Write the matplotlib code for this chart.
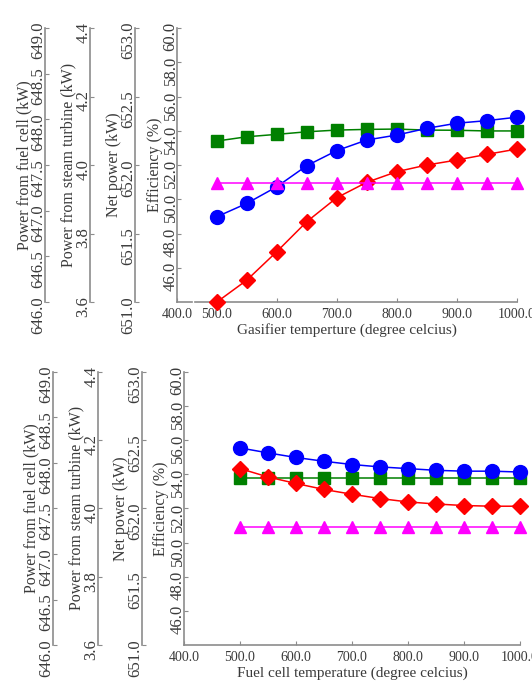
import matplotlib
matplotlib.use("Agg")
import matplotlib.pyplot as plt

plt.rcParams['font.family'] = ['Liberation Serif', 'DejaVu Serif']

temps = [500, 550, 600, 650, 700, 750, 800, 850, 900, 950, 1000]

# gasifier temperature sweep, read on the efficiency scale
gas_green = [53.40, 53.65, 53.79, 53.94, 54.04, 54.08, 54.10, 54.04, 54.03, 53.99, 53.99]
gas_blue = [48.98, 49.76, 50.73, 51.96, 52.84, 53.46, 53.75, 54.14, 54.44, 54.59, 54.79]
gas_red = [44.0, 45.28, 46.94, 48.69, 50.09, 50.99, 51.61, 52.0, 52.29, 52.62, 52.93]
gas_magenta = [50.95, 50.95, 50.95, 50.95, 50.95, 50.95, 50.95, 50.95, 50.95, 50.95, 50.95]

# fuel cell temperature sweep
fc_blue = [55.54, 55.25, 54.98, 54.76, 54.57, 54.43, 54.33, 54.23, 54.18, 54.18, 54.13]
fc_red = [54.33, 53.84, 53.46, 53.11, 52.83, 52.58, 52.38, 52.26, 52.17, 52.13, 52.13]
fc_green = [53.8, 53.8, 53.8, 53.8, 53.8, 53.8, 53.8, 53.8, 53.8, 53.8, 53.8]
fc_magenta = [50.9, 50.9, 50.9, 50.9, 50.9, 50.9, 50.9, 50.9, 50.9, 50.9, 50.9]

fc_power_ticks = [646.0, 646.5, 647.0, 647.5, 648.0, 648.5, 649.0]
st_power_ticks = [3.6, 3.8, 4.0, 4.2, 4.4]
net_power_ticks = [651.0, 651.5, 652.0, 652.5, 653.0]
eff_ticks = [46.0, 48.0, 50.0, 52.0, 54.0, 56.0, 58.0, 60.0]
eff_lim = (44.0, 60.0)
x_ticks = [500, 600, 700, 800, 900, 1000]

TXT = '#3a3a3a'
SPN = '#8c8c8c'
YFS = 12      # rotated tick labels look taller in the original
YLFS = 11.5
XFS = 10
XLFS = 11

side_axes = [
    ("Power from fuel cell (kW)", fc_power_ticks, '%.1f'),
    ("Power from steam turbine (kW)", st_power_ticks, '%.1f'),
    ("Net power (kW)", net_power_ticks, '%.1f'),
]


def style_y(a, ticks, fmt, label, pad):
    for s in ['top', 'right', 'bottom']:
        a.spines[s].set_visible(False)
    a.spines['left'].set_color(SPN)
    a.spines['left'].set_linewidth(1.2)
    a.set_yticks(ticks)
    a.set_yticklabels([fmt % t for t in ticks])
    a.tick_params(axis='y', labelrotation=90, direction='in', length=3,
                  color=SPN, labelcolor=TXT, labelsize=YFS, pad=-1)
    a.set_ylabel(label, fontsize=YLFS, color=TXT, labelpad=pad)


def panel(fig, bottom, top, xs, right, xlim, xlabels, xlabel, series, gap=None):
    h = top - bottom
    for x, (label, ticks, fmt) in zip(xs[:3], side_axes):
        a = fig.add_axes([x, bottom, 0.0001, h])
        a.patch.set_visible(False)
        a.set_xticks([])
        a.set_ylim(ticks[0], ticks[-1])
        style_y(a, ticks, fmt, label, -1)

    ax = fig.add_axes([xs[3], bottom, right - xs[3], h])
    ax.patch.set_visible(False)
    ax.set_ylim(*eff_lim)
    style_y(ax, eff_ticks, '%.1f', "Efficiency (%)", 0)
    ax.spines['bottom'].set_visible(True)
    ax.spines['bottom'].set_color(SPN)
    ax.spines['bottom'].set_linewidth(1.2)
    ax.set_xlim(*xlim)
    ax.set_xticks([xlim[0]] + x_ticks)
    ax.set_xticklabels(xlabels)
    ax.tick_params(axis='x', direction='in', length=3, color=SPN,
                   labelcolor=TXT, labelsize=XFS, pad=4)
    ax.set_xlabel(xlabel, fontsize=XLFS, color=TXT, labelpad=2)

    if gap is not None:
        ax.spines['bottom'].set_bounds(gap[1], xlim[1])
        ax.plot([xlim[0], gap[0]], [eff_lim[0], eff_lim[0]], color=SPN,
                lw=1.2, clip_on=False)

    styles = [('#008000', 's', 9), ('#0000ff', 'o', 10), ('#ff0000', 'D', 8),
              ('#ff00ff', '^', 9)]
    for ys, (c, m, ms) in zip(series, styles):
        ax.plot(temps, ys, color=c, marker=m, markersize=ms, lw=1.1,
                clip_on=False, zorder=3)
    return ax


fig = plt.figure(figsize=(5.32, 6.82), dpi=100)

labels_top = ["400.0"] + ['%.1f' % t for t in x_ticks]
panel(fig, 0.557, 0.959, [0.085, 0.169, 0.254, 0.333], 0.971, (434, 1000),
      labels_top, "Gasifier temperture (degree celcius)",
      [gas_green, gas_blue, gas_red, gas_magenta], gap=(458, 463))

labels_bot = ['%.1f' % t for t in [400] + x_ticks]
panel(fig, 0.054, 0.455, [0.0996, 0.184, 0.267, 0.346], 0.977, (400, 1000),
      labels_bot, "Fuel cell temperature (degree celcius)",
      [fc_green, fc_blue, fc_red, fc_magenta])

fig.savefig("out.png", dpi=100)
